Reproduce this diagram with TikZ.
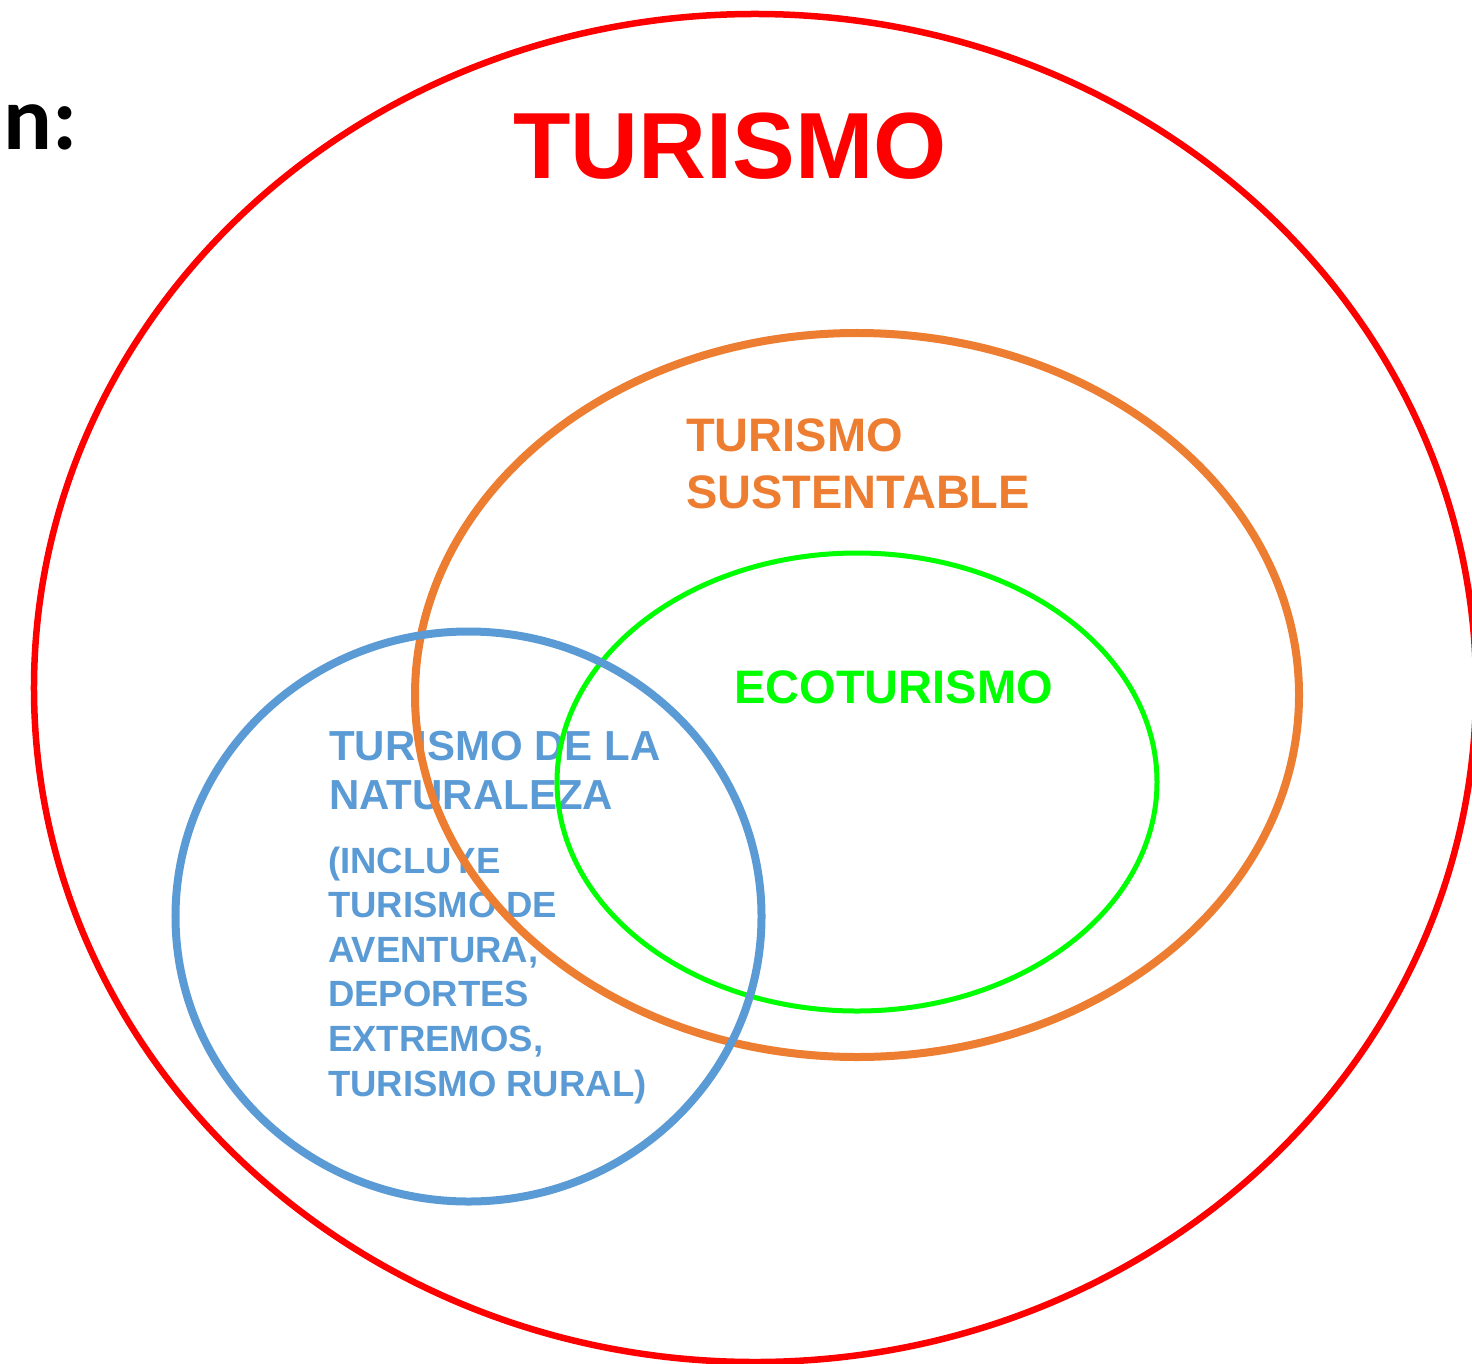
\documentclass[tikz,border=0pt]{standalone}
\usepackage{fontspec}
\setmainfont{Liberation Sans}
\newfontfamily\carlito{Carlito}
\definecolor{naranja}{HTML}{ED7D31}
\definecolor{verde}{HTML}{00FF00}
\definecolor{azul}{HTML}{5B9BD5}
\tikzset{
    anillo/.style={
           line width=8bp,
           },
}
\tikzset{
    rotulo/.style={
           inner sep=0pt,
           anchor=base west,
           align=left,
           },
}

\begin{document}
\begin{tikzpicture}[x=1bp,y=-1bp]
\useasboundingbox (0,0) rectangle (1472,1364);
% textos
\node[inner sep=0pt,anchor=base west,font={\carlito\bfseries\fontsize{91bp}{91bp}\selectfont}](n) at (3,150){n:};
\node[rotulo,anchor=base,text=red,font={\bfseries\fontsize{94bp}{94bp}\selectfont}](turismo) at (730,179){TURISMO};
\node[rotulo,text=naranja,font={\bfseries\fontsize{47bp}{57bp}\selectfont}](sust) at (686,508){TURISMO\\SUSTENTABLE};
\node[rotulo,text=verde,font={\bfseries\fontsize{47bp}{57bp}\selectfont}](eco) at (734,703){ECOTURISMO};
\node[rotulo,text=azul,font={\bfseries\fontsize{42bp}{49bp}\selectfont}](nat) at (329,809){TURISMO DE LA\\NATURALEZA};
\node[rotulo,text=azul,font={\bfseries\fontsize{36.5bp}{44.6bp}\selectfont}](incl) at (328,1096){(INCLUYE\\TURISMO DE\\AVENTURA,\\DEPORTES\\EXTREMOS,\\TURISMO RURAL)};
% conjuntos
\draw[anillo,draw=red,line width=6.5bp] (755,688) ellipse [x radius=721bp, y radius=674bp];
\draw[anillo,draw=naranja] (857,695) ellipse [x radius=442bp, y radius=362bp];
\draw[anillo,draw=verde,line width=5bp] (857,782) ellipse [x radius=300bp, y radius=229bp];
\draw[anillo,draw=azul] (468.5,916.5) ellipse [x radius=293bp, y radius=285bp];
\end{tikzpicture}
\end{document}
